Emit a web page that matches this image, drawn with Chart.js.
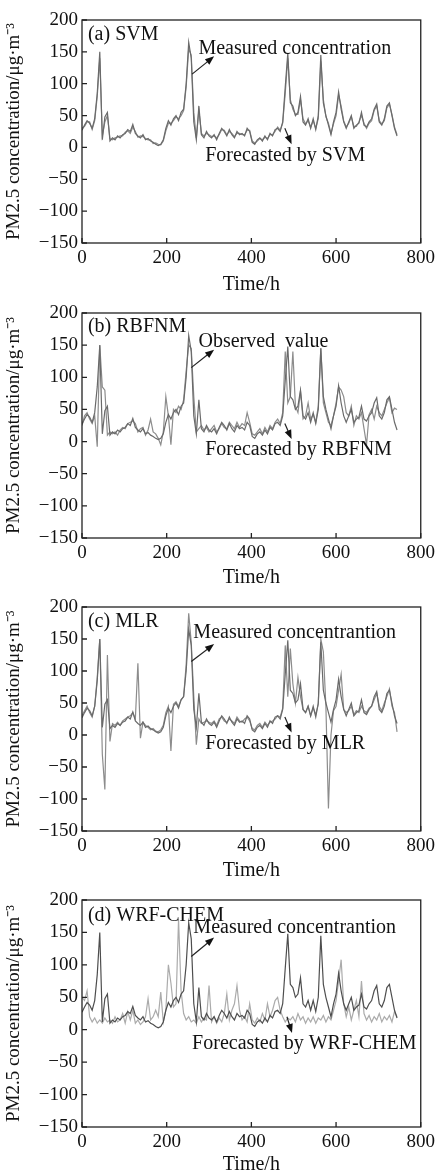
<!DOCTYPE html>
<html>
<head>
<meta charset="utf-8">
<script src="https://cdn.jsdelivr.net/npm/chart.js@4.4.0/dist/chart.umd.min.js"></script>
<style>
  html, body { margin: 0; padding: 0; background: #fff; }
  #wrap { position: relative; width: 439px; height: 1173px; }
  .panel { position: absolute; left: 0; width: 439px; }
</style>
</head>
<body>
<div id="wrap">
  <div class="panel" style="top:0px"><canvas id="chartA" width="439" height="293"></canvas></div>
  <div class="panel" style="top:293px"><canvas id="chartB" width="439" height="293"></canvas></div>
  <div class="panel" style="top:586px"><canvas id="chartC" width="439" height="293"></canvas></div>
  <div class="panel" style="top:879px"><canvas id="chartD" width="439" height="294"></canvas></div>
</div>
<script>
// -------------------------------
// DATA (hourly PM2.5, sampled every 6 h)
// -------------------------------
const STEP = 6;

const measuredPM = [
  27, 35, 42, 38, 30, 45, 85, 150, 12, 48,
  55, 10, 15, 12, 18, 15, 20, 22, 28, 25,
  36, 22, 18, 15, 20, 12, 14, 10, 8, 5,
  3, 5, 12, 30, 42, 35, 45, 50, 42, 55,
  60, 100, 165, 140, 40, 12, 65, 20, 15, 25,
  18, 15, 20, 12, 22, 30, 25, 18, 28, 20,
  15, 25, 20, 22, 18, 30, 25, 8, 5, 12,
  15, 10, 18, 12, 22, 18, 28, 30, 25, 40,
  95, 148, 70, 65, 50, 55, 80, 40, 35, 45,
  30, 45, 28, 50, 145, 70, 50, 35, 20, 40,
  55, 87, 60, 40, 30, 40, 50, 30, 35, 38,
  55, 35, 32, 40, 45, 60, 68, 40, 35, 45,
  65, 70, 50, 30, 18
];

const svmForecast = [
  30, 33, 40, 40, 28, 42, 80, 140, 18, 40,
  50, 14, 12, 15, 16, 18, 18, 24, 26, 22,
  32, 25, 16, 18, 17, 14, 12, 12, 6, 7,
  5, 4, 10, 26, 38, 38, 42, 48, 45, 50,
  58, 95, 155, 145, 55, 15, 58, 22, 18, 22,
  20, 17, 18, 15, 20, 28, 27, 20, 25, 22,
  17, 22, 22, 20, 20, 27, 27, 10, 7, 10,
  14, 12, 16, 14, 20, 20, 25, 32, 27, 38,
  85, 140, 75, 60, 52, 52, 75, 45, 37, 42,
  32, 42, 30, 45, 135, 75, 48, 38, 22, 37,
  50, 82, 65, 42, 32, 38, 48, 33, 33, 40,
  50, 38, 30, 38, 42, 58, 65, 42, 37, 42,
  62, 68, 52, 32, 20
];

const rbfnmForecast = [
  25, 40, 45, 35, 28, 40, -8, 150, 85, 80,
  10, 15, 12, 15, 10, 18, 22, 20, 28, 30,
  32, 28, 15, 20, 22, 10, 18, 35, 15, 12,
  5, -5, 15, 70, 40, -5, 50, 45, 55, 50,
  65, 110, 150, 145, 70, 15, 20, 25, 18, 22,
  15, 20, 25, 15, 20, 28, 22, 20, 30, 25,
  20, 30, 22, 28, 25, 45, 30, 12, 10, 15,
  20, 12, 22, 15, 25, 20, 30, 35, 28, 45,
  140, 60, 70, 140, 55, 45, 78, 35, 40, 60,
  35, 42, 30, 55, 145, 60, 45, 30, 25, 40,
  60, 85, 80, 70, 45, 40, 55, 25, 40, 35,
  45, 20, -5, 42, 50, 35, 55, 45, 40, 50,
  60, 68, 45, 52, 50
];

const mlrForecast = [
  30, 38, 45, 35, 28, 45, 90, 150, -30, -85,
  125, -10, 18, 15, 20, 15, 22, 25, 28, 30,
  35, 25, 112, -5, 20, 15, 12, 8, 10, 6,
  5, 8, 15, 35, 45, -25, 48, 52, 45, 55,
  60, 110, 190, 145, 60, -15, 25, 18, 20, 22,
  20, 18, 22, 15, 25, 28, 22, 20, 25, 22,
  18, 28, 22, 20, 25, 28, 22, 10, 8, 15,
  18, 12, 20, 15, 20, 22, 25, 30, 28, 42,
  140, 60, 135, 80, 50, 90, 60, 40, 35, 45,
  30, 42, 32, 48, 150, 130, 45, -115, 0, 38,
  45, 70, 95, 40, 35, 38, 45, 32, 38, 35,
  45, 38, 35, 42, 45, 55, 65, 45, 38, 50,
  60, 72, 45, 35, 5
];

const wrfForecast = [
  50, 45, 60, 20, 12, 18, 10, 15, 10, 18,
  12, 15, 10, 20, 12, 15, 25, 10, 28, 15,
  30, 10, 15, 8, 12, 20, 48, 15, 20, 30,
  20, 58, 12, 30, 100, 72, 35, 40, 170, 60,
  25, 15, 20, 12, 15, 10, 20, 12, 18, 15,
  68, 12, 20, 10, 18, 12, 25, 55, 15, 30,
  40, 68, 30, 15, 20, 12, 40, 15, 10, 18,
  12, 25, 15, 40, 20, 30, 45, 50, 30, 20,
  12, 18, 15, 20, 12, 25, 15, 20, 10, 18,
  12, 20, 10, 18, 15, 22, 12, 20, 15, 30,
  45, 75, 108, 40, 20, 35, 15, 30, 45, 20,
  75, 25, 15, 22, 12, 20, 15, 25, 12, 20,
  15, 22, 12, 28, 20
];

const xTicks = [0, 200, 400, 600, 800];
const yTicks = [-150, -100, -50, 0, 50, 100, 150, 200];

const FONT = "'Liberation Serif', 'Times New Roman', serif";

// -------------------------------
// FRAME, INWARD TICKS AND NOTES
// -------------------------------
function drawArrow(ctx, x1, y1, x2, y2) {
    const ang = Math.atan2(y2 - y1, x2 - x1);
    const len = 9, half = 3.5;
    ctx.beginPath();
    ctx.moveTo(x1, y1);
    ctx.lineTo(x2 - Math.cos(ang) * len * 0.8, y2 - Math.sin(ang) * len * 0.8);
    ctx.stroke();
    ctx.beginPath();
    ctx.moveTo(x2, y2);
    ctx.lineTo(x2 - Math.cos(ang) * len - Math.sin(ang) * half, y2 - Math.sin(ang) * len + Math.cos(ang) * half);
    ctx.lineTo(x2 - Math.cos(ang) * len + Math.sin(ang) * half, y2 - Math.sin(ang) * len - Math.cos(ang) * half);
    ctx.closePath();
    ctx.fill();
}

const decorPlugin = {
    id: "decor",
    afterDatasetsDraw(chart, args, opts) {
        const { ctx, chartArea: a, scales: { x, y } } = chart;
        ctx.save();
        ctx.strokeStyle = "#222";
        ctx.fillStyle = "#111";
        ctx.lineWidth = 1.3;
        ctx.strokeRect(a.left, a.top, a.right - a.left, a.bottom - a.top);

        ctx.beginPath();
        y.ticks.forEach(t => {
            const py = y.getPixelForValue(t.value);
            ctx.moveTo(a.left, py);
            ctx.lineTo(a.left + 5, py);
        });
        x.ticks.forEach(t => {
            const px = x.getPixelForValue(t.value);
            ctx.moveTo(px, a.bottom);
            ctx.lineTo(px, a.bottom - 5);
        });
        ctx.stroke();

        ctx.font = "20px " + FONT;
        ctx.textAlign = "left";
        ctx.textBaseline = "middle";
        (opts.notes || []).forEach(n => {
            ctx.fillText(n.text, x.getPixelForValue(n.at[0]), y.getPixelForValue(n.at[1]));
        });
        ctx.lineWidth = 1.2;
        (opts.arrows || []).forEach(ar => {
            drawArrow(ctx,
                x.getPixelForValue(ar[0][0]), y.getPixelForValue(ar[0][1]),
                x.getPixelForValue(ar[1][0]), y.getPixelForValue(ar[1][1]));
        });
        ctx.restore();
    }
};

// -------------------------------
// ONE PANEL
// -------------------------------
function toPoints(values) {
    return values.map((v, i) => ({ x: i * STEP, y: v }));
}

function drawPanel(canvasId, layoutInfo, forecast, colors, notes, arrows) {
    const canvas = document.getElementById(canvasId);
    const xHeight = canvas.height - layoutInfo.top - layoutInfo.plotH;

    return new Chart(canvas.getContext("2d"), {
        type: "line",
        data: {
            datasets: [{
                label: "Measured",
                data: toPoints(measuredPM),
                borderColor: colors[0],
                borderWidth: 1.2,
                pointRadius: 0,
                tension: 0
            }, {
                label: "Forecast",
                data: toPoints(forecast),
                borderColor: colors[1],
                borderWidth: 1.2,
                pointRadius: 0,
                tension: 0
            }]
        },
        options: {
            responsive: false,
            animation: false,
            layout: { padding: { top: layoutInfo.top, right: 16, left: 0, bottom: 0 } },
            plugins: {
                legend: { display: false },
                tooltip: { enabled: false },
                decor: { notes: notes, arrows: arrows }
            },
            scales: {
                x: {
                    type: "linear",
                    min: 0,
                    max: 800,
                    afterBuildTicks: s => { s.ticks = xTicks.map(v => ({ value: v })); },
                    afterFit: s => { s.height = xHeight; },
                    grid: { display: false, drawTicks: false },
                    border: { display: false },
                    ticks: { color: "#111", padding: 4, maxRotation: 0, font: { family: FONT, size: 19 } },
                    title: {
                        display: true,
                        text: "Time/h",
                        color: "#111",
                        padding: { top: 0, bottom: -2 },
                        font: { family: FONT, size: 20, lineHeight: 1 }
                    }
                },
                y: {
                    min: -150,
                    max: 200,
                    afterBuildTicks: s => { s.ticks = yTicks.map(v => ({ value: v })); },
                    afterFit: s => { s.width = 82; },
                    grid: { display: false, drawTicks: false },
                    border: { display: false },
                    ticks: {
                        color: "#111",
                        padding: 4,
                        font: { family: FONT, size: 19 },
                        callback: v => (v < 0 ? "\u2212" + Math.abs(v) : String(v))
                    },
                    title: {
                        display: true,
                        text: "PM2.5 concentration/\u03bcg\u00b7m\u207b\u00b3",
                        color: "#111",
                        padding: { top: 5, bottom: 0 },
                        font: { family: FONT, size: 19, lineHeight: 1 }
                    }
                }
            }
        },
        plugins: [decorPlugin]
    });
}

const greyPair = ["#6a6a6a", "#8c8c8c"];

drawPanel("chartA", { top: 20, plotH: 223 }, svmForecast, greyPair,
    [{ text: "(a) SVM", at: [14, 177] },
     { text: "Measured concentration", at: [275, 155] },
     { text: "Forecasted by SVM", at: [291, -13] }],
    [[[260, 115], [312, 143]], [[479, 30], [495, 5]]]);

drawPanel("chartB", { top: 20, plotH: 225 }, rbfnmForecast, greyPair,
    [{ text: "(b) RBFNM", at: [14, 178] },
     { text: "Observed  value", at: [275, 156] },
     { text: "Forecasted by RBFNM", at: [291, -13] }],
    [[[258, 115], [312, 143]], [[479, 28], [495, 4]]]);

drawPanel("chartC", { top: 21, plotH: 224 }, mlrForecast, greyPair,
    [{ text: "(c) MLR", at: [14, 177] },
     { text: "Measured concentrantion", at: [263, 159] },
     { text: "Forecasted by MLR", at: [291, -13] }],
    [[[258, 115], [312, 142]], [[479, 28], [495, 4]]]);

drawPanel("chartD", { top: 21, plotH: 227 }, wrfForecast, ["#4e4e4e", "#ababab"],
    [{ text: "(d) WRF-CHEM", at: [14, 176] },
     { text: "Measured concentrantion", at: [263, 157] },
     { text: "Forecasted by WRF-CHEM", at: [260, -21] }],
    [[[258, 113], [312, 142]], [[484, 20], [496, -5]]]);
</script>
</body>
</html>
